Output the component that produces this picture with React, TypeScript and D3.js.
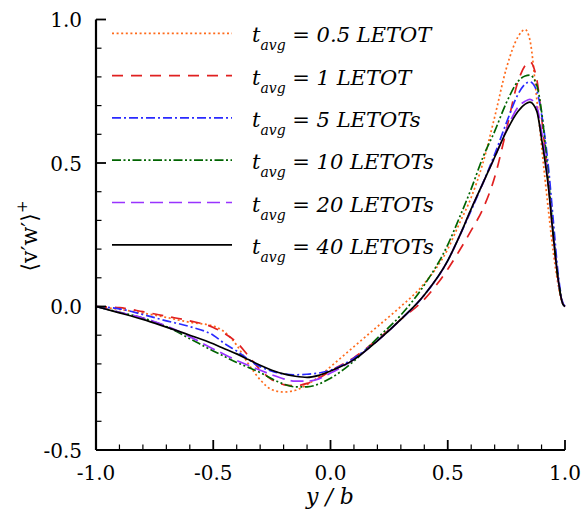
import React from "react";
import * as d3 from "d3";

// Spanwise positions y/b shared by every averaging window
const yb = [-1.0, -0.9, -0.8, -0.7, -0.6, -0.5, -0.45, -0.4, -0.35, -0.3, -0.25, -0.2, -0.15, -0.1, -0.05, 0.0, 0.1, 0.2, 0.3, 0.4, 0.5, 0.55, 0.6, 0.65, 0.7, 0.75, 0.8, 0.83, 0.85, 0.88, 0.9, 0.93, 0.95, 0.97, 0.99, 1.0];

// <v'w'>+ for each averaging window
const avg05 = [0, -0.01, -0.023, -0.038, -0.055, -0.068, -0.09, -0.135, -0.2, -0.255, -0.29, -0.298, -0.292, -0.272, -0.245, -0.21, -0.14, -0.07, 0.0, 0.08, 0.2, 0.29, 0.38, 0.5, 0.66, 0.83, 0.94, 0.965, 0.93, 0.72, 0.56, 0.33, 0.19, 0.08, 0.01, 0];
const avg1 = [0, -0.004, -0.018, -0.034, -0.05, -0.073, -0.095, -0.125, -0.172, -0.22, -0.255, -0.272, -0.276, -0.268, -0.25, -0.225, -0.178, -0.115, -0.045, 0.025, 0.13, 0.195, 0.265, 0.34, 0.45, 0.615, 0.785, 0.84, 0.853, 0.79, 0.66, 0.42, 0.24, 0.095, 0.01, 0];
const avg5 = [0, -0.008, -0.028, -0.05, -0.07, -0.1, -0.13, -0.155, -0.185, -0.21, -0.225, -0.235, -0.238, -0.236, -0.232, -0.222, -0.18, -0.118, -0.045, 0.04, 0.16, 0.245, 0.335, 0.43, 0.53, 0.64, 0.74, 0.775, 0.783, 0.75, 0.67, 0.48, 0.3, 0.12, 0.015, 0];
const avg10 = [0, -0.02, -0.04, -0.07, -0.112, -0.155, -0.175, -0.195, -0.212, -0.23, -0.252, -0.27, -0.28, -0.28, -0.27, -0.25, -0.19, -0.11, -0.03, 0.075, 0.215, 0.31, 0.41, 0.52, 0.61, 0.71, 0.785, 0.803, 0.806, 0.77, 0.68, 0.44, 0.26, 0.1, 0.012, 0];
const avg20 = [0, -0.02, -0.04, -0.068, -0.105, -0.148, -0.168, -0.188, -0.205, -0.222, -0.238, -0.252, -0.26, -0.26, -0.252, -0.232, -0.185, -0.12, -0.045, 0.04, 0.16, 0.245, 0.34, 0.43, 0.52, 0.615, 0.695, 0.715, 0.722, 0.695, 0.61, 0.42, 0.25, 0.1, 0.012, 0];
const avg40 = [0, -0.022, -0.045, -0.072, -0.1, -0.13, -0.148, -0.165, -0.185, -0.205, -0.222, -0.235, -0.243, -0.247, -0.24, -0.225, -0.185, -0.12, -0.045, 0.04, 0.16, 0.245, 0.34, 0.43, 0.52, 0.61, 0.68, 0.705, 0.712, 0.68, 0.585, 0.41, 0.245, 0.1, 0.01, 0];

const seriesLabels = ["0.5 LETOT", "1 LETOT", "5 LETOTs", "10 LETOTs", "20 LETOTs", "40 LETOTs"];
const seriesValues = [avg05, avg1, avg5, avg10, avg20, avg40];
const seriesColors = ["#ff6a1a", "#e02020", "#2a2aff", "#006400", "#9933ff", "#000000"];
const seriesDashes = ["2,2.6", "11,8", "9,3,2,3", "9,2.5,2,2.5,2,2.5", "13,6", "none"];

const xTicks = [-1.0, -0.5, 0.0, 0.5, 1.0];
const yTicks = [-0.5, 0.0, 0.5, 1.0];

const W = 582;
const H = 514;
const left = 96;
const right = 565;
const top = 19.5;
const bottom = 450;

const serif = "DejaVu Serif";

// tick labels use a plain hyphen for the sign
const fmt = (v: number) => d3.format(".1f")(v).replace("\u2212", "-");

export default function App() {
  const x = d3.scaleLinear().domain([-1, 1]).range([left, right]);
  const y = d3.scaleLinear().domain([-0.5, 1]).range([bottom, top]);

  const line = d3
    .line<[number, number]>()
    .x((d) => x(d[0]))
    .y((d) => y(d[1]))
    .curve(d3.curveMonotoneX);

  const xMinor = d3.range(-1, 1.0001, 0.1).map((v) => +v.toFixed(2));
  const yMinor = d3.range(-0.5, 1.0001, 0.1).map((v) => +v.toFixed(2));

  return (
    <svg width={W} height={H} fontFamily={serif} style={{ position: "absolute", left: 0, top: 0, background: "#fff" }}>
      {/* data curves */}
      {seriesValues.map((vals, i) => (
        <path
          key={seriesLabels[i]}
          d={line(yb.map((v, k) => [v, vals[k]] as [number, number])) || ""}
          fill="none"
          stroke={seriesColors[i]}
          strokeWidth={1.7}
          strokeDasharray={seriesDashes[i]}
        />
      ))}

      {/* axes */}
      <g stroke="#000">
        <line x1={left} x2={left} y1={top} y2={bottom} strokeWidth={2.2} />
        <line x1={left} x2={right} y1={bottom} y2={bottom} strokeWidth={2.2} />
        {xMinor.map((v) => {
          const major = xTicks.some((t) => Math.abs(t - v) < 1e-6);
          return (
            <line key={"xm" + v} x1={x(v)} x2={x(v)} y1={bottom} y2={bottom - (major ? 10 : 5.5)} strokeWidth={major ? 1.8 : 1.2} />
          );
        })}
        {yMinor.map((v) => {
          const major = yTicks.some((t) => Math.abs(t - v) < 1e-6);
          return (
            <line key={"ym" + v} x1={left} x2={left + (major ? 10 : 5.5)} y1={y(v)} y2={y(v)} strokeWidth={major ? 1.8 : 1.2} />
          );
        })}
      </g>

      {/* tick labels */}
      <g fontSize={20} fill="#000">
        {xTicks.map((v) => (
          <text key={"xl" + v} x={x(v)} y={480} textAnchor="middle">
            {fmt(v)}
          </text>
        ))}
        {yTicks.map((v) => (
          <text key={"yl" + v} x={82} y={y(v) + 7.5} textAnchor="end">
            {fmt(v)}
          </text>
        ))}
      </g>

      {/* axis titles */}
      <text x={330} y={504} textAnchor="middle" fontSize={22} fontStyle="italic">
        y / b
      </text>
      <text transform="translate(37,236) rotate(-90)" textAnchor="middle" fontSize={22}>
        ⟨v′w′⟩<tspan dy={-10} fontSize={15}>+</tspan>
      </text>

      {/* legend */}
      {seriesLabels.map((lab, i) => {
        const ly = 33.3 + i * 42.3;
        return (
          <g key={"lg" + lab}>
            <line
              x1={112}
              x2={232}
              y1={ly}
              y2={ly}
              stroke={seriesColors[i]}
              strokeWidth={1.7}
              strokeDasharray={seriesDashes[i]}
            />
            <text x={252} y={ly + 9} fontSize={21} fontStyle="italic">
              t<tspan dy={8} fontSize={14}>avg</tspan>
              <tspan dy={-8}>{" = " + lab}</tspan>
            </text>
          </g>
        );
      })}
    </svg>
  );
}
